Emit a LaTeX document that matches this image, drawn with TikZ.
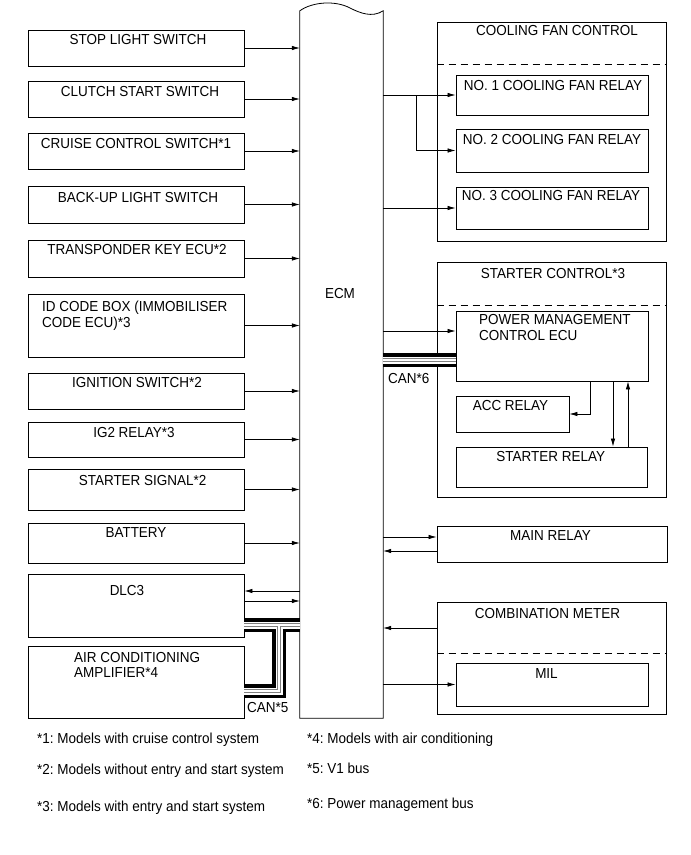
\documentclass[tikz,border=0pt]{standalone}
\usepackage{fontspec}
\setmainfont{Liberation Sans}[FakeStretch=0.93]
\usetikzlibrary{arrows.meta,fit}
\frenchspacing

% bus cable drawn in four passes
\newcommand{\busline}[1]{%
  \draw[line width=14pt] #1;
  \draw[white,line width=7pt] #1;
  \draw[gray,line width=3.2pt] #1;
  \draw[white,line width=1.6pt] #1;}

\begin{document}
\begin{tikzpicture}[x=1pt, y=-1pt,
    every node/.style={font=\fontsize{14.5}{16}\selectfont, inner sep=0pt},
    box/.style={draw, line width=0.8pt, inner sep=0pt},
    lbl/.style={anchor=base},
    lbll/.style={anchor=base west},
    arr/.style={-{Latex[length=8pt,width=4.5pt]}, line width=0.7pt},
    sep/.style={line width=0.8pt, dash pattern=on 7pt off 5pt}]
  \useasboundingbox (0,0) rectangle (691,855);

  % ECM
  \node[inner sep=0pt, fit={(300,11) (383,718)}] (ecm) {};
  \draw[line width=0.8pt] (ecm.north west) .. controls (312,2) and (335,0) .. (350,8)
    .. controls (360,13) and (372,18) .. (ecm.north east)
    -- (ecm.south east) -- (ecm.south west) -- cycle;
  \node[lbl] (ecmtxt) at (340,298) {ECM};

  % inputs
  \node[box, fit={(28,30) (244,66)}] (stop) {};
  \node[box, fit={(28,81) (244,117)}] (clutch) {};
  \node[box, fit={(28,133) (244,169)}] (cruise) {};
  \node[box, fit={(28,186) (244,223)}] (backup) {};
  \node[box, fit={(28,240) (244,277)}] (transp) {};
  \node[box, fit={(28,294) (244,357)}] (idbox) {};
  \node[box, fit={(28,373) (244,409)}] (ign) {};
  \node[box, fit={(28,422) (244,457)}] (igtwo) {};
  \node[box, fit={(28,469) (244,510)}] (stsig) {};
  \node[box, fit={(28,523) (244,563)}] (batt) {};
  \node[box, fit={(28,574) (244,637)}] (dlc) {};
  \node[box, fit={(28,646) (244,718)}] (acamp) {};

  \node[lbl] (stoptxt) at (138,44) {STOP LIGHT SWITCH};
  \node[lbl] (clutchtxt) at (140,96.7) {CLUTCH START SWITCH};
  \node[lbl] (cruisetxt) at (136,148) {CRUISE CONTROL SWITCH*1};
  \node[lbl] (backuptxt) at (138,202) {BACK-UP LIGHT SWITCH};
  \node[lbl] (transptxt) at (137,254.5) {TRANSPONDER KEY ECU*2};
  \node[lbll] (idtxta) at (42,311.7) {ID CODE BOX (IMMOBILISER};
  \node[lbll] (idtxtb) at (42,327.3) {CODE ECU)*3};
  \node[lbl] (igntxt) at (137,387.7) {IGNITION SWITCH*2};
  \node[lbl] (igtwotxt) at (134,437.3) {IG2 RELAY*3};
  \node[lbl] (stsigtxt) at (142.6,485) {STARTER SIGNAL*2};
  \node[lbl] (batttxt) at (136,537.3) {BATTERY};
  \node[lbl] (dlctxt) at (127,595.7) {DLC3};
  \node[lbll] (actxta) at (74,662.3) {AIR CONDITIONING};
  \node[lbll] (actxtb) at (74,677.3) {AMPLIFIER*4};
  \node[lbll] (canfive) at (247,712.7) {CAN*5};

  \foreach \src in {stop,clutch,cruise,backup,transp,idbox,ign,igtwo,stsig,batt}
    \draw[arr] (\src.east) -- (\src.east -| ecm.west);
  \draw[arr] ([yshift=14.5pt]dlc.east -| ecm.west) -- ([yshift=14.5pt]dlc.east);
  \draw[arr] ([yshift=4.5pt]dlc.east) -- ([yshift=4.5pt]dlc.east -| ecm.west);

  % V1 bus
  \coordinate (vfork) at (279,625);
  \busline{(dlc.east |- vfork) -- (ecm.west |- vfork) (vfork) |- ([yshift=-9pt]acamp.east)}

  % cooling fan control
  \node[box, fit={(437,22) (666,241)}] (fanctl) {};
  \node[box, fit={(456,75) (648,115)}] (fanone) {};
  \node[box, fit={(456,129) (648,172)}] (fantwo) {};
  \node[box, fit={(456,187) (648,229)}] (fanthree) {};
  \draw[sep] (fanctl.west |- 0,64) -- (fanctl.east |- 0,64);
  \node[lbl] (fanctltxt) at (557,35.7) {COOLING FAN CONTROL};
  \node[lbl] (fanonetxt) at (553,90.7) {NO. 1 COOLING FAN RELAY};
  \node[lbl] (fantwotxt) at (552,144) {NO. 2 COOLING FAN RELAY};
  \node[lbl] (fanthreetxt) at (551,200.7) {NO. 3 COOLING FAN RELAY};
  \coordinate (ffork) at (416,95);
  \draw[arr] (ecm.east |- fanone.west) -- (fanone.west);
  \draw[arr] (ffork) |- (fantwo.west);
  \draw[arr] (fanthree.west -| ecm.east) -- (fanthree.west);

  % starter control
  \node[box, fit={(437,262) (666,497)}] (stctl) {};
  \node[box, fit={(456,311) (648,381)}] (pmc) {};
  \node[box, fit={(456,396) (569,432)}] (acc) {};
  \node[box, fit={(456,447) (647,487)}] (strel) {};
  \draw[sep] (stctl.west |- 0,305) -- (stctl.east |- 0,305);
  \node[lbl] (stctltxt) at (553,278.3) {STARTER CONTROL*3};
  \node[lbll] (pmctxta) at (479,324) {POWER MANAGEMENT};
  \node[lbll] (pmctxtb) at (479,340) {CONTROL ECU};
  \node[lbl] (acctxt) at (510.5,410) {ACC RELAY};
  \node[lbl] (streltxt) at (550.7,461.7) {STARTER RELAY};
  \node[lbll] (cansix) at (388,383.3) {CAN*6};
  \draw[arr] ([yshift=15pt]pmc.west -| ecm.east) -- ([yshift=15pt]pmc.west);
  \busline{([yshift=-14pt]pmc.west -| ecm.east) -- ([yshift=-14pt]pmc.west)}
  \draw[arr] (pmc.south -| 590,0) |- (acc.east);
  \draw[arr] (pmc.south -| 613,0) -- (strel.north -| 613,0);
  \draw[arr] (strel.north -| 628,0) -- (pmc.south -| 628,0);

  % main relay
  \node[box, fit={(437,526) (667,562)}] (mainrel) {};
  \node[lbl] (mainreltxt) at (550.5,540) {MAIN RELAY};
  \draw[arr] ([yshift=7pt]mainrel.west -| ecm.east) -- ([yshift=7pt]mainrel.west);
  \draw[arr] ([yshift=-7pt]mainrel.west) -- ([yshift=-7pt]mainrel.west -| ecm.east);

  % combination meter
  \node[box, fit={(437,602) (666,714)}] (meter) {};
  \node[box, fit={(456,663) (648,706)}] (mil) {};
  \draw[sep] (meter.west |- 0,653) -- (meter.east |- 0,653);
  \node[lbl] (metertxt) at (547.5,618.3) {COMBINATION METER};
  \node[lbl] (miltxt) at (546.5,678.3) {MIL};
  \draw[arr] ([yshift=30pt]meter.west) -- ([yshift=30pt]meter.west -| ecm.east);
  \draw[arr] (mil.west -| ecm.east) -- (mil.west);

  % notes
  \node[lbll] (noteone) at (37,743.7) {*1: Models with cruise control system};
  \node[lbll] (notetwo) at (37,774.7) {*2: Models without entry and start system};
  \node[lbll] (notethree) at (37,811) {*3: Models with entry and start system};
  \node[lbll] (notefour) at (307,743.7) {*4: Models with air conditioning};
  \node[lbll] (notefive) at (307,773) {*5: V1 bus};
  \node[lbll] (notesix) at (307,808) {*6: Power management bus};
\end{tikzpicture}
\end{document}
